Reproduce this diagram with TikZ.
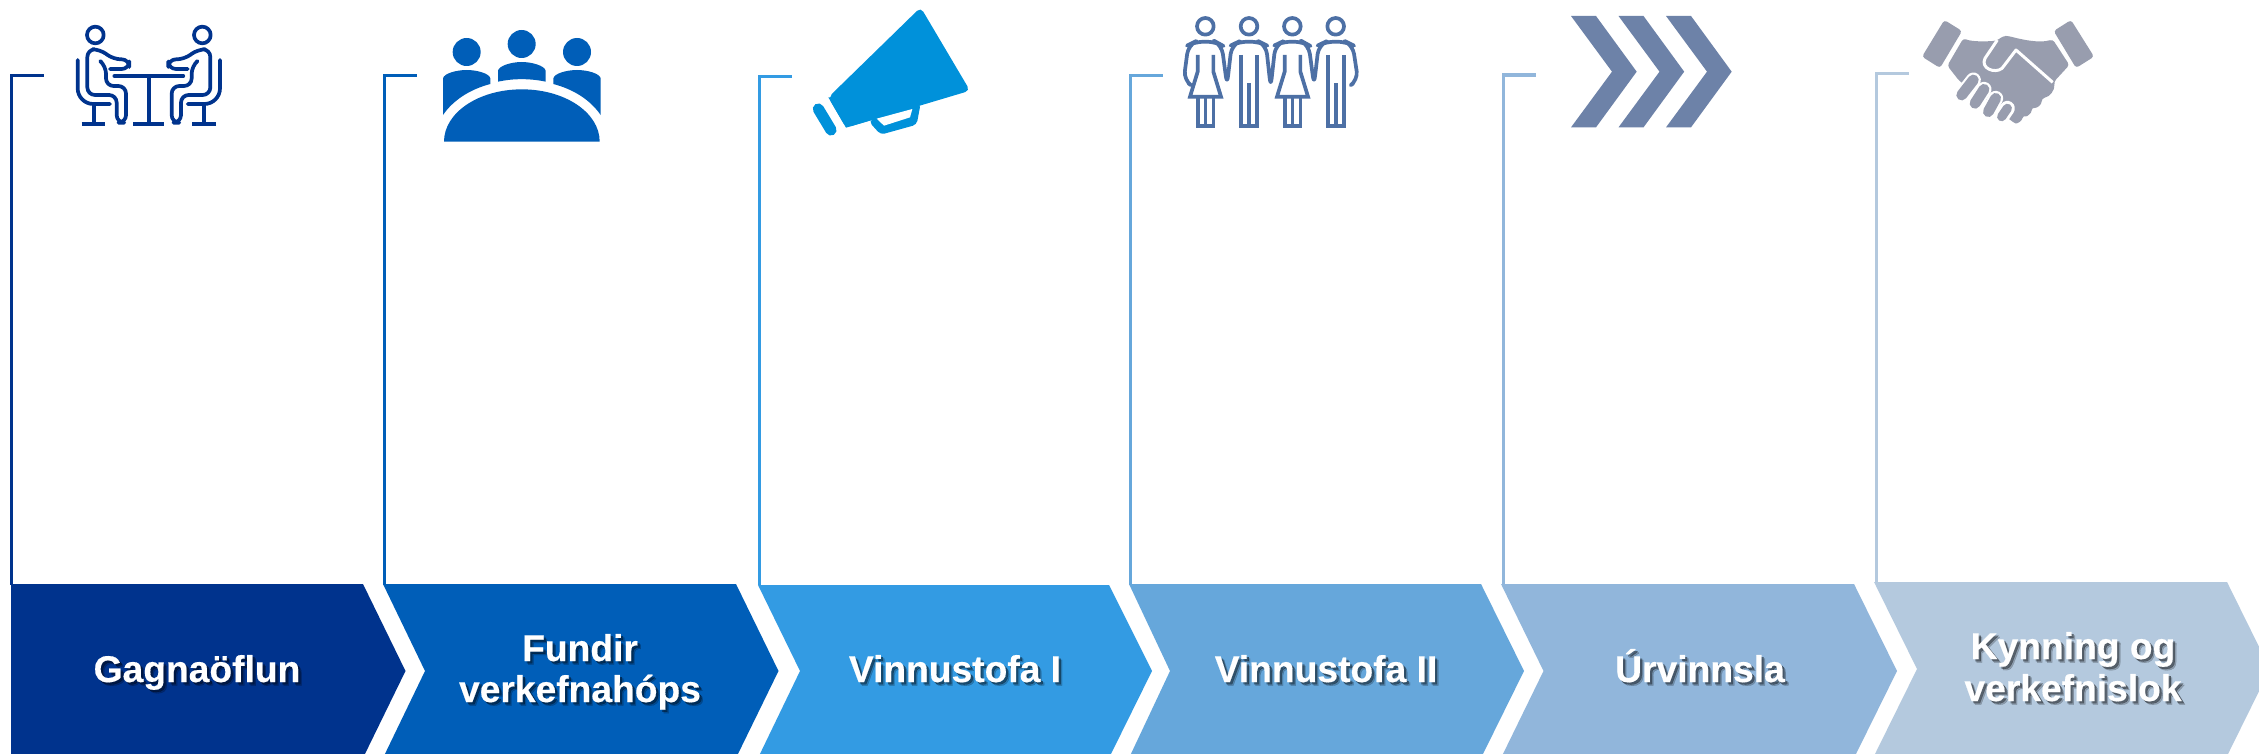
\documentclass[tikz,border=0pt]{standalone}
\usepackage{fontspec}
\setmainfont{Liberation Sans}[BoldFeatures={FakeBold=0.35}]
\definecolor{c1}{HTML}{00338D}
\definecolor{c2}{HTML}{005EB8}
\definecolor{c3}{HTML}{339BE3}
\definecolor{c4}{HTML}{66A7DB}
\definecolor{c5}{HTML}{91B6DB}
\definecolor{c6}{HTML}{B4C9DE}
\definecolor{i3}{HTML}{0091DA}
\definecolor{i4}{HTML}{4D70A5}
\definecolor{i5}{HTML}{6D82A8}
\definecolor{i6}{HTML}{989DAE}
\tikzset{
  bracket/.style={line width=1.65pt},
  labeltext/.style={text=white,font=\fontsize{18.6pt}{20pt}\selectfont\bfseries,anchor=base,inner sep=0pt},
  labelshadow/.style={text=black,text opacity=#1,font=\fontsize{18.6pt}{20pt}\selectfont\bfseries,anchor=base,inner sep=0pt},
  iconline/.style={line width=1.85pt,line cap=round,line join=round,fill=none},
  iconscope/.style={x=0.16667pt,y=-0.16667pt}
}
% chevron: colour, left-top x, notch x (=left x for the first), shoulder x, tip x, top y, tip y, bottom y
\newcommand\chev[8]{%
  \fill[#1] (#2,#6) -- (#4,#6) -- (#5,#7) -- (#4,#8) -- (#2,#8) -- (#3,#7) -- cycle;}
% bracket: colour, name, x, top y, end x, chevron top y
\newcommand\brk[6]{%
  \coordinate (#2a) at (#3,#6);
  \coordinate (#2b) at (#5,#4);
  \draw[bracket,#1] (#2a) |- (#2b);}
\newcommand\lbl[4]{%
  \node[labelshadow=.22] at (#2+3.5,#3+3.5) {#4};
  \node[labelshadow=.38] at (#2+2.2,#3+2.2) {#4};
  \node[labeltext] (#1) at (#2,#3) {#4};}
\newcommand\sitter{%
  \draw[iconline] (286,105) circle[radius=25];
  \draw[iconline,rounded corners=3.8pt] (305,187) -- (318,198) -- (318,258) -- (378,258) -- (378,368) -- (350,368) -- (350,285) -- (262,285) -- (262,148) -- (300,148) -- (340,178) -- (388,178) -- (388,207) -- (330,207);
  \draw[iconline] (233,180) -- (233,265) arc[start angle=180,end angle=90,radius=47] -- (330,312);
  \draw[iconline,line cap=butt] (281,312) -- (281,371);
  \draw[iconline,line cap=butt] (245,371) -- (316,371);}
\newcommand\woman{%
  \draw[iconline] (256,79) circle[radius=25];
  \draw[iconline,line join=miter,line cap=butt] (233,165) -- (233,215) -- (210,290) -- (303,290) -- (280,215) -- (280,165);
  \draw[iconline,line join=miter,line cap=butt] (233,290) -- (233,378) -- (280,378) -- (280,290);
  \draw[iconline,line cap=butt] (256,290) -- (256,378);}
\newcommand\man{%
  \draw[iconline] (387,79) circle[radius=25];
  \draw[iconline,line join=miter,line cap=butt] (363,165) -- (363,378) -- (411,378) -- (411,165);
  \draw[iconline,line cap=butt] (387,250) -- (387,378);}
\begin{document}
\begin{tikzpicture}[x=0.5pt,y=-0.5pt]
\useasboundingbox (0,0) rectangle (2259,754);
\clip (0,0) rectangle (2259,754);
\fill[white] (0,0) rectangle (2259,754);

% brackets
\brk{c1}{b1}{11.5}{75.5}{44}{585}
\brk{c2}{b2}{384.5}{75.5}{417}{585}
\brk{c3}{b3}{759.5}{76.5}{792}{585}
\brk{c4}{b4}{1130.5}{75.5}{1163}{585}
\brk{c5}{b5}{1503.5}{75}{1536}{585}
\brk{c6}{b6}{1876.5}{73.5}{1909}{583}

% chevrons
\chev{c1}{11}{11}{363}{405.5}{584}{671}{758}
\chev{c2}{383}{425}{736}{778.5}{584}{671}{758}
\chev{c3}{758}{800}{1109}{1152}{585}{671}{758}
\chev{c4}{1129}{1170}{1481}{1524}{584}{671}{758}
\chev{c5}{1501}{1543.5}{1854}{1897}{584}{671}{758}
\chev{c6}{1874}{1917}{2227}{2270}{582}{669}{756}

% labels
\lbl{l1}{197}{682}{Gagnaöflun}
\lbl{l2a}{580}{661}{Fundir}
\lbl{l2b}{580}{702}{verkefnahóps}
\lbl{l3}{955}{682}{Vinnustofa I}
\lbl{l4}{1326}{682}{Vinnustofa II}
\lbl{l5}{1700}{682}{Úrvinnsla}
\lbl{l6a}{2073}{659}{Kynning og}
\lbl{l6b}{2073}{701}{verkefnislok}

% icon 1: two people at a table
\begin{scope}[shift={(0,0)},iconscope,c1]
  \sitter
  \draw[iconline] (343,228) -- (550,228);
  \draw[iconline,line cap=butt] (447,228) -- (447,371);
  \draw[iconline,line cap=butt] (400,371) -- (493,371);
\end{scope}
\begin{scope}[shift={(297.67,0)},iconscope,xscale=-1,c1]
  \sitter
\end{scope}

% icon 2: meeting
\begin{scope}[shift={(380,0)},iconscope,c2]
  \fill (260,156) circle[radius=42];
  \fill (425,132) circle[radius=42];
  \fill (591,156) circle[radius=42];
  \fill (189,345) -- (189,235) .. controls (192,220) and (230,210) .. (260,210) .. controls (290,210) and (328,220) .. (331,235) -- (331,252) .. controls (270,268) and (220,300) .. (189,345) -- cycle;
  \fill (662,345) -- (662,235) .. controls (659,220) and (621,210) .. (591,210) .. controls (561,210) and (523,220) .. (520,235) -- (520,252) .. controls (581,268) and (631,300) .. (662,345) -- cycle;
  \fill (354,245) -- (354,212) .. controls (357,197) and (395,186) .. (425,186) .. controls (455,186) and (494,197) .. (497,212) -- (497,245) .. controls (450,235) and (400,235) .. (354,245) -- cycle;
  \fill (192,425) .. controls (192,338) and (296,268) .. (425.5,268) .. controls (555,268) and (659,338) .. (659,425) -- cycle;
\end{scope}

% icon 3: megaphone
\begin{scope}[shift={(750,0)},iconscope,i3]
  \fill[rounded corners=2.5pt] (235,292) -- (512,22) -- (660,272) -- (288,383) -- cycle;
  \fill (235,292) -- (288,383) -- (400,350) -- (400,292) -- cycle;
  \fill[rounded corners=2pt] (357,365) -- (392,404) -- (500,374) -- (512,310) -- (400,330) -- cycle;
  \fill[white] (380,356) -- (487,327) -- (480,352) -- (402,377) -- cycle;
  \draw[line width=5.6pt,line cap=round] (205,327) -- (243,390);
\end{scope}

% icon 4: four people
\begin{scope}[shift={(1120,0)},iconscope,i4]
  \draw[iconline,rounded corners=4.5pt] (205,250) -- (191,240) -- (205,135) -- (225,125) -- (287,125) -- (305,135) -- (321,255) -- (335,135) -- (356,125) -- (418,125) -- (438,135) -- (452,262) -- (466,135) -- (487,125) -- (548,125) -- (566,135) -- (582,255) -- (596,135) -- (617,125) -- (678,125) -- (698,135) -- (714,240) -- (700,250);
  \woman
  \man
  \begin{scope}[shift={(261,0)},x=0.16667pt,y=-0.16667pt]
    \woman
  \end{scope}
  \begin{scope}[shift={(260,0)},x=0.16667pt,y=-0.16667pt]
    \man
  \end{scope}
\end{scope}

% icon 5: triple chevron
\begin{scope}[shift={(1490,0)},iconscope,i5]
  \fill (243,48) -- (318,48) -- (440,215) -- (318,382) -- (243,382) -- (366,215) -- cycle;
  \fill (385.5,48) -- (460.5,48) -- (582.5,215) -- (460.5,382) -- (385.5,382) -- (508.5,215) -- cycle;
  \fill (528,48) -- (603,48) -- (725,215) -- (603,382) -- (528,382) -- (651,215) -- cycle;
\end{scope}

% icon 6: handshake
\begin{scope}[shift={(1860,0)},iconscope,i6]
  \fill[rounded corners=1.5pt] (253,60) -- (306,93) -- (240,204) -- (186,170) -- cycle;
  \fill[rounded corners=1.5pt] (633,60) -- (581,93) -- (648,204) -- (702,170) -- cycle;
  \fill[rounded corners=1.5pt] (262,197) -- (310,115) .. controls (335,125) and (375,125) .. (410,122) -- (430,108) -- (445,108) .. controls (490,120) and (540,130) .. (578,118) -- (628,195) -- (582,245) .. controls (585,270) and (570,290) .. (545,295) .. controls (545,315) and (530,325) .. (515,322) .. controls (515,340) and (500,350) .. (490,345) .. controls (485,365) and (470,372) .. (458,366) -- (380,300) -- (298,243) -- cycle;
  \draw[white,line width=7.5pt,line cap=round] (340,240) -- (305,285);
  \draw[white,line width=7.5pt,line cap=round] (372,268) -- (345,310);
  \draw[white,line width=7.5pt,line cap=round] (407,295) -- (385,335);
  \draw[white,line width=7.5pt,line cap=round] (442,325) -- (425,350);
  \draw[line width=5.4pt,line cap=round] (340,240) -- (305,285);
  \draw[line width=5.4pt,line cap=round] (372,268) -- (345,310);
  \draw[line width=5.4pt,line cap=round] (407,295) -- (385,335);
  \draw[line width=4.6pt,line cap=round] (442,325) -- (425,350);
  \draw[white,line width=1.5pt,line join=round] (578,247) -- (468,150) -- (426,205) .. controls (405,222) and (360,205) .. (375,175) -- (412,120);
\end{scope}
\end{tikzpicture}
\end{document}
